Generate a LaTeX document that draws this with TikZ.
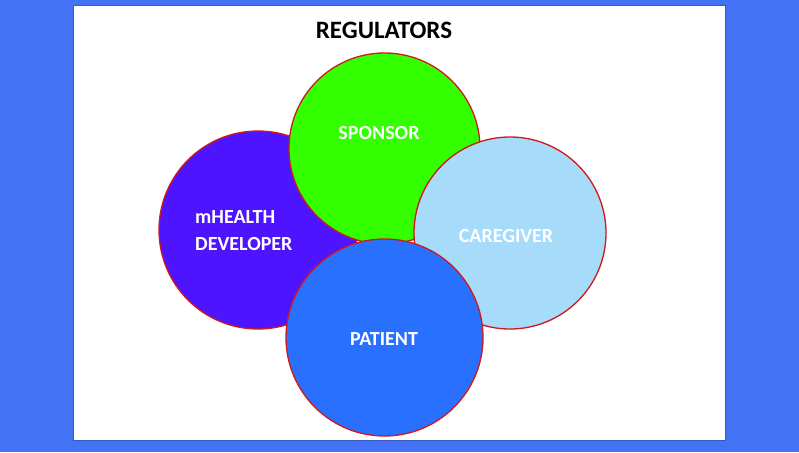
\documentclass[tikz,border=0pt]{standalone}
\usepackage{fontspec}
\setmainfont{Carlito}
\definecolor{bgblue}{HTML}{4472F4}
\definecolor{devcol}{HTML}{4F14FF}
\definecolor{spocol}{HTML}{33FF00}
\definecolor{carecol}{HTML}{A6DCFA}
\definecolor{patcol}{HTML}{2970FF}
\definecolor{ringred}{HTML}{D01818}
\tikzset{
  circ/.style={circle, draw=ringred, line width=1.3pt, inner sep=0pt},
  lbl/.style={text=white, font=\fontsize{20}{27}\selectfont\bfseries, inner sep=0pt, align=left},
}
\begin{document}
\begin{tikzpicture}[x=1pt,y=-1pt]
\fill[bgblue] (0,0) rectangle (799,452);
\useasboundingbox (0,0) rectangle (799,452);
\node[draw=bgblue!80!black, line width=0.6pt, fill=white, minimum width=652pt, minimum height=435pt, inner sep=0pt, anchor=north west] (panel) at (73,5) {};
\node[font=\fontsize{25}{30}\selectfont\bfseries, inner sep=0pt] (title) at (384,30) {REGULATORS};
\node[circ, fill=devcol, minimum size=198pt] (dev) at (258,230) {};
\node[circ, fill=spocol, minimum size=191pt] (spo) at (384.5,148.5) {};
\node[circ, fill=carecol, minimum size=192pt] (care) at (510,233) {};
\node[circ, fill=patcol, minimum size=197pt] (pat) at (384.5,337.5) {};
\node[lbl, anchor=west] (devl) at (195,231) {mHEALTH\\DEVELOPER};
\node[lbl] (spol) at (379,133) {SPONSOR};
\node[lbl] (carel) at (506,236) {CAREGIVER};
\node[lbl] (patl) at (384,339) {PATIENT};
\end{tikzpicture}
\end{document}
